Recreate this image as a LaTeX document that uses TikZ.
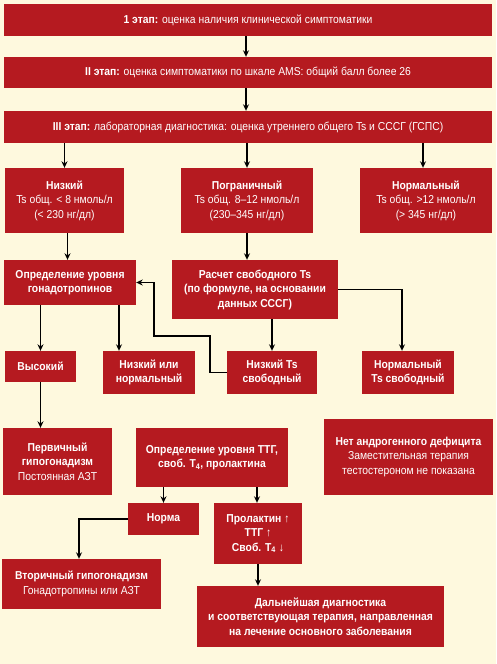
\documentclass[tikz,border=0pt]{standalone}
\usepackage{fontspec}
\setmainfont{Liberation Sans}[FakeStretch=0.9]
\usetikzlibrary{arrows.meta}
\definecolor{bgc}{RGB}{254,249,222}
\definecolor{boxred}{RGB}{181,26,32}
\begin{document}
\begin{tikzpicture}[x=1pt,y=-1pt,
  box/.style={fill=boxred,text=white,inner sep=1pt,align=center,font=\fontsize{11.5}{14.5}\selectfont},
  bbox/.style={box,font=\fontsize{11.5}{14.5}\selectfont\bfseries},
  arr/.style={draw=black,line width=1.6pt,-{Stealth[length=6.5pt,width=6pt]}}]
\fill[bgc] (0,0) rectangle (496,664);
\useasboundingbox (0,0) rectangle (496,664);
\node[box,minimum width=488pt,minimum height=32pt] (s1) at (248,20) {\textbf{1 этап:} оценка наличия клинической симптоматики};
\node[box,minimum width=488pt,minimum height=31pt] (s2) at (248,72.5) {\textbf{II этап:} оценка симптоматики по шкале AMS: общий балл более 26};
\node[box,minimum width=488pt,minimum height=32pt] (s3) at (248,127) {\textbf{III этап:} лабораторная диагностика: оценка утреннего общего Ts и СССГ (ГСПС)};
\node[box,minimum width=119pt,minimum height=65pt] (low) at (64.5,200.5) {\textbf{Низкий}\\Ts общ. < 8 нмоль/л\\(< 230 нг/дл)};
\node[box,minimum width=132pt,minimum height=65pt] (border) at (247,200.5) {\textbf{Пограничный}\\Ts общ. 8–12 нмоль/л\\(230–345 нг/дл)};
\node[box,minimum width=132pt,minimum height=65pt] (norm) at (426,200.5) {\textbf{Нормальный}\\Ts общ. >12 нмоль/л\\(> 345 нг/дл)};
\node[bbox,minimum width=132pt,minimum height=45pt] (gonad) at (70,282.5) {Определение уровня\\гонадотропинов};
\node[bbox,minimum width=166pt,minimum height=59pt] (calc) at (255,289.5) {Расчет свободного Ts\\(по формуле, на основании\\данных СССГ)};
\node[bbox,minimum width=71pt,minimum height=31pt] (high) at (40.5,366.5) {Высокий};
\node[bbox,minimum width=92pt,minimum height=43pt] (lown) at (149,372.5) {Низкий или\\нормальный};
\node[bbox,minimum width=90pt,minimum height=43pt] (lowfree) at (272,372.5) {Низкий Ts\\свободный};
\node[bbox,minimum width=92pt,minimum height=43pt] (normfree) at (408,372.5) {Нормальный\\Ts свободный};
\node[box,minimum width=109pt,minimum height=67pt] (prim) at (57.5,461.5) {\textbf{Первичный}\\\textbf{гипогонадизм}\\Постоянная АЗТ};
\node[bbox,minimum width=152pt,minimum height=59pt] (ttg) at (212,457.5) {Определение уровня ТТГ,\\своб. T\textsubscript{4}, пролактина};
\node[box,minimum width=169pt,minimum height=76pt] (noand) at (408.5,457) {\textbf{Нет андрогенного дефицита}\\Заместительная терапия\\тестостероном не показана};
\node[bbox,minimum width=71pt,minimum height=32pt] (norma) at (163.5,519) {Норма};
\node[bbox,minimum width=88pt,minimum height=61pt] (prol) at (258,533.5) {Пролактин ↑\\ТТГ ↑\\Своб. T\textsubscript{4} ↓};
\node[box,minimum width=159pt,minimum height=50pt] (sec) at (81.5,584) {\textbf{Вторичный гипогонадизм}\\Гонадотропины или АЗТ};
\node[bbox,minimum width=247pt,minimum height=61pt] (further) at (320.5,616.5) {Дальнейшая диагностика\\и соответствующая терапия, направленная\\на лечение основного заболевания};
\coordinate (b1) at (154,336);
% connectors
\draw[arr] ([xshift=-2pt]s1.south) -- ([xshift=-2pt]s2.north);
\draw[arr] ([xshift=-2pt]s2.south) -- ([xshift=-2pt]s3.north);
\draw[arr] (s3.south -| low.north) -- (low.north);
\draw[arr] (s3.south -| border.north) -- (border.north);
\draw[arr] ([xshift=-3pt]s3.south -| norm.north) -- ([xshift=-3pt]norm.north);
\draw[arr] ([xshift=3pt]low.south) -- ([xshift=3pt]low.south |- gonad.north);
\draw[arr] (border.south) -- (border.south |- calc.north);
\draw[arr] (gonad.south -| high.north) -- (high.north);
\draw[arr] ([xshift=-30pt]lown.north |- gonad.south) -- ([xshift=-30pt]lown.north);
\draw[arr] (calc.south -| lowfree.north) -- (lowfree.north);
\draw[arr] (calc.east) -| ([xshift=-6pt]normfree.north);
\draw[arr] (lowfree.west) -- ++(-17,0) |- (b1) |- (gonad.east);
\draw[arr] (high.south) -- (high.south |- prim.north);
\draw[arr] (ttg.south -| norma.north) -- (norma.north);
\draw[arr] ([xshift=-1pt]prol.north |- ttg.south) -- ([xshift=-1pt]prol.north);
\draw[arr] (norma.west) -| ([xshift=-2.5pt]sec.north);
\draw[arr] (prol.south) -- (prol.south |- further.north);
\end{tikzpicture}
\end{document}
